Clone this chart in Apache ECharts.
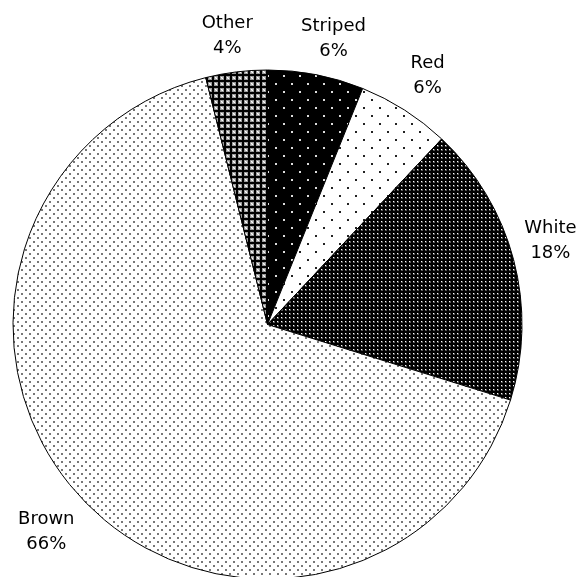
<!DOCTYPE html>
<html>
<head>
<meta charset="utf-8">
<script src="https://cdn.jsdelivr.net/npm/echarts@6/dist/echarts.min.js"></script>
<style>
html,body{margin:0;padding:0;background:#fff;}
#chart{width:579px;height:577px;}
</style>
</head>
<body>
<div id="chart"></div>
<script>
// Data (clockwise from 12 o'clock)
const categories = ['Striped', 'Red', 'White', 'Brown', 'Other'];
const values = [6.1, 5.9, 17.8, 66.3, 3.9];

// Layout constants
const CX = 267.5, CY = 324.5, R = 254.5, GAP = 11, K = 2.5;
const FONT_SIZE = 18, LINE_H = 25, FONT = 'DejaVu Sans';

function makePattern(size, bg, draw) {
  const c = document.createElement('canvas');
  c.width = size; c.height = size;
  const g = c.getContext('2d');
  g.fillStyle = bg; g.fillRect(0, 0, size, size);
  draw(g);
  return { image: c, repeat: 'repeat' };
}
const patterns = [
  // Striped: black with sparse white dots
  makePattern(16, '#000', g => {
    g.fillStyle = '#ddd'; g.fillRect(3, 3, 2, 2); g.fillRect(11, 11, 2, 2);
  }),
  // Red: white with sparse black dots
  makePattern(16, '#fff', g => {
    g.fillStyle = '#222'; g.fillRect(3, 3, 2, 2); g.fillRect(11, 11, 2, 2);
  }),
  // White: black with dense white dots
  makePattern(4, '#000', g => {
    g.fillStyle = '#555'; g.fillRect(1, 1, 2, 2);
    g.fillStyle = '#fff'; g.fillRect(1, 1, 1, 1);
  }),
  // Brown: white with dense gray dots
  makePattern(8, '#fff', g => {
    g.fillStyle = '#777'; g.fillRect(1, 1, 2, 2); g.fillRect(5, 5, 2, 2);
  }),
  // Other: gray crosshatch
  makePattern(6, '#999', g => {
    g.fillStyle = '#000'; g.fillRect(2, 0, 2, 6); g.fillRect(0, 2, 6, 2);
    g.fillStyle = '#fff'; g.fillRect(0, 0, 1, 1); g.fillRect(5, 5, 1, 1);
    g.fillStyle = '#ccc'; g.fillRect(5, 0, 1, 1); g.fillRect(0, 5, 1, 1);
  })
];

const total = values.reduce((a, b) => a + b, 0);
const midAngles = [];
let cum = 0;
values.forEach(v => { midAngles.push((cum + v / 2) / total * 2 * Math.PI); cum += v; });

const labelText = (name, value) => name + '\n' + Math.round(value / total * 100) + '%';
const measureCtx = document.createElement('canvas').getContext('2d');
measureCtx.font = FONT_SIZE + 'px "' + FONT + '"';
const textWidth = s => Math.max.apply(null, s.split('\n').map(l => measureCtx.measureText(l).width));
const clamp1 = v => Math.max(-1, Math.min(1, v));

const chart = echarts.init(document.getElementById('chart'));
chart.setOption({
  animation: false,
  backgroundColor: '#fff',
  series: [{
    type: 'pie',
    center: [CX, CY],
    radius: R,
    startAngle: 90,
    clockwise: true,
    avoidLabelOverlap: false,
    data: categories.map((n, i) => ({ name: n, value: values[i], itemStyle: { color: patterns[i] } })),
    itemStyle: { borderColor: '#000', borderWidth: 1 },
    emphasis: { disabled: true },
    label: {
      show: true,
      position: 'outside',
      formatter: p => labelText(p.name, p.value),
      fontFamily: FONT,
      fontSize: FONT_SIZE,
      lineHeight: LINE_H,
      width: 120,
      overflow: 'none',
      color: '#000'
    },
    labelLine: { show: false },
    labelLayout: function (params) {
      const i = params.dataIndex;
      const a = midAngles[i];
      const sx = Math.sin(a), cy = -Math.cos(a);
      const w = textWidth(labelText(categories[i], values[i])), h = 2 * LINE_H;
      const ax = CX + (R + GAP) * sx, ay = CY + (R + GAP) * cy;
      return {
        x: ax + clamp1(K * sx) * w / 2,
        y: ay + clamp1(K * cy) * h / 2,
        align: 'center', verticalAlign: 'middle', hideOverlap: false
      };
    }
  }]
});
</script>
</body>
</html>
